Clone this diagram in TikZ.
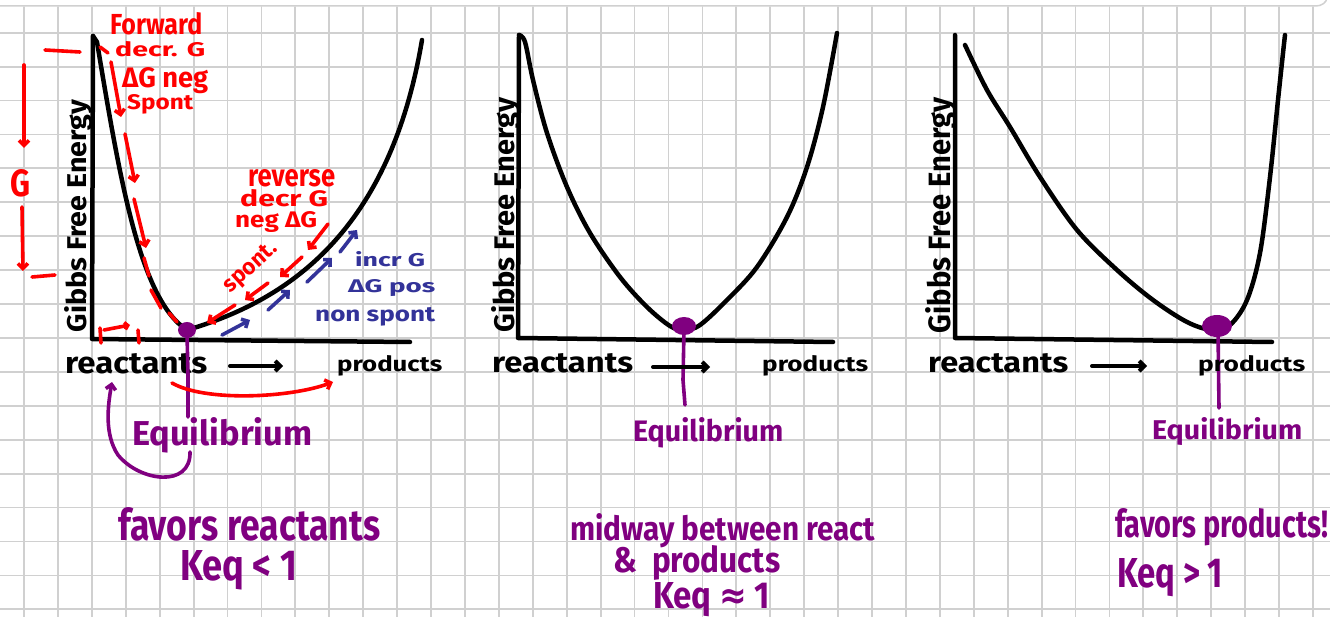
\documentclass[tikz,border=0pt]{standalone}
\usepackage{graphicx}
\usepackage{fontspec}
\setmainfont{Fira Sans}
\newfontfamily\djv{DejaVu Sans}
\usetikzlibrary{arrows.meta}
\definecolor{gridc}{RGB}{208,208,208}
\definecolor{penred}{RGB}{255,0,0}
\definecolor{penpurple}{RGB}{128,0,128}
\definecolor{penblue}{RGB}{51,51,153}
\newcommand{\fb}[3]{\resizebox{#1pt}{#2pt}{\bfseries #3}}
\begin{document}
\begin{tikzpicture}[x=1pt,y=-1pt,line cap=round,line join=round,
  gridline/.style={gridc,line width=1.8pt},
  curve/.style={black,line width=4.5pt},
  redpen/.style={penred,line width=3.6pt},
  bluepen/.style={penblue,line width=3.6pt},
  purplepen/.style={penpurple,line width=3.6pt},
  barb/.style={-{Straight Barb[length=5pt,width=10pt]}},
  lbl/.style={inner sep=0pt,anchor=base west},
  vlbl/.style={inner sep=0pt,anchor=base,rotate=90},
  dot/.style={penpurple}
]
\useasboundingbox (0,0) rectangle (1330,617);
\fill[white] (0,0) rectangle (1330,617);
% grid
\foreach \k in {0,...,38} \draw[gridline] ({24+33.92*\k},7) -- ({24+33.92*\k},617);
\foreach \k in {0,...,17} \draw[gridline] (0,{32.7+33.92*\k}) -- (1330,{32.7+33.92*\k});
\draw[gridc,line width=1.5pt] (0,6) -- (1316,6) to[out=0,in=-90] (1327,-3);

% ================= Panel 1 =================
\draw[curve] (93,36) -- (92,339) -- (410,342);
\draw[curve] (93,36) -- (97,42) .. controls (120,180) and (140,300) .. (187,330)
  .. controls (290,300) and (390,230) .. (422,40);
\fill[dot] (187,330) ellipse [x radius=9pt,y radius=8pt];
\node[lbl] (r1) at (65,373) {\fb{142}{20}{reactants}};
\node[lbl] (p1) at (337,371) {\fb{105}{16}{products}};
\coordinate (a1s) at (230,366); \coordinate (a1e) at (283,366);
\draw[black,line width=4pt,barb] (a1s) -- (a1e);
\node[vlbl] (g1) at (86,216) {\fb{232}{22}{Gibbs Free Energy}};

% red: forward annotation
\node[lbl,penred] (fw) at (110,35) {\fb{92}{22}{Forward}};
\node[lbl,penred] (fw2) at (115,57) {\fb{90}{15}{decr. G}};
\node[lbl,penred] (fw3) at (122,88) {\fb{86}{20}{ΔG neg}};
\node[lbl,penred] (fw4) at (127,110) {\fb{66}{15}{Spont}};
\draw[redpen] (100,47) -- (108,53);
\draw[redpen,barb] (111,62) -- (121,117);
\draw[redpen,barb] (125,134) -- (135,183);
\draw[redpen,barb] (134,199) -- (146,248);
\draw[redpen] (144,258) -- (149,276);
\draw[redpen] (151,290) -- (161,308);
\draw[redpen] (169,313) -- (177,322);
% red: G scale on the left
\draw[redpen] (45,50) -- (80,52);
\draw[redpen,barb] (24,65) -- (24,148);
\node[lbl,penred] (gl) at (10,197) {\fb{20}{27}{G}};
\draw[redpen,barb] (22,207) -- (23,271);
\draw[redpen] (32,277) -- (55,275);
% red: small arrow near axis
\draw[redpen] (100,328) -- (101,343);
\draw[redpen] (138,330) -- (139,343);
\draw[redpen,-{Straight Barb[length=3pt,width=7pt]}] (104,330) -- (130,325);
% red: reverse annotation
\node[lbl,penred] (rv) at (248,187) {\fb{87}{17}{reverse}};
\node[lbl,penred] (rv2) at (240,207) {\fb{88}{17}{decr G}};
\node[lbl,penred] (rv3) at (235,228) {\fb{82}{16}{neg ΔG}};
\node[inner sep=0pt,rotate=42,penred] (rv4) at (251,268) {\fb{64}{15}{spont.}};
\draw[redpen,barb] (328,224) -- (308,250);
\draw[redpen,barb] (302,257) -- (280,277);
\draw[redpen,barb] (268,283) -- (245,300);
\draw[redpen,barb] (235,305) -- (207,323);
% blue: increasing G annotation
\draw[bluepen,barb] (222,335) -- (250,320);
\draw[bluepen,barb] (268,310) -- (290,290);
\draw[bluepen,barb] (307,282) -- (332,258);
\draw[bluepen,barb] (340,252) -- (357,230);
\node[lbl,penblue] (bl1) at (355,267) {\fb{70}{15}{incr G}};
\node[lbl,penblue] (bl2) at (348,293) {\fb{87}{13}{ΔG pos}};
\node[lbl,penblue] (bl3) at (315,322) {\fb{120}{14}{non spont}};
% purple
\node[lbl,penpurple] (eq1) at (132,445) {\fb{180}{28}{Equilibrium}};
\draw[purplepen] (187,333) -- (188,375) -- (188,417);
\coordinate (lp1) at (190,452); \coordinate (lp2) at (112,382);
\draw[purplepen,barb] (lp1) .. controls (191,488) and (140,482) .. (118,455) .. controls (104,434) and (108,405) .. (lp2);
\coordinate (ra1) at (172,383); \coordinate (ra2) at (333,382);
\draw[redpen,barb] (ra1) .. controls (205,402) and (290,398) .. (ra2);
\node[lbl,penpurple] (fr) at (118,540) {\fb{262}{33}{favors reactants}};
\node[lbl,penpurple] (k1) at (180,580) {\fb{117}{30}{Keq < 1}};

% ================= Panel 2 =================
\draw[curve] (519,35) -- (518,338) -- (833,342);
\draw[curve] plot[smooth,tension=0.55] coordinates {(519,35) (525,42) (533,80) (547,133) (567,187) (590,233) (620,277) (647,307) (670,326) (684,330) (700,325) (727,300) (757,267) (787,217) (807,167) (823,107) (837,33)};
\fill[dot] (684,326) ellipse [x radius=12pt,y radius=9pt];
\draw[purplepen] (684,330) -- (683,380) -- (685,405);
\node[lbl] (r2) at (492,372) {\fb{141}{19}{reactants}};
\node[lbl] (p2) at (762,371) {\fb{106}{16}{products}};
\coordinate (a2s) at (653,367); \coordinate (a2e) at (710,367);
\draw[black,line width=4pt,barb] (a2s) -- (a2e);
\node[vlbl] (g2) at (514,215) {\fb{235}{23}{Gibbs Free Energy}};
\node[lbl,penpurple] (eq2) at (633,441) {\fb{150}{24}{Equilibrium}};
\node[lbl,penpurple] (mw) at (570,540) {\fb{305}{27}{midway between react}};
\node[lbl,penpurple] (mw2) at (613,572) {\fb{167}{27}{\&\ \ products}};
\node[lbl,penpurple] (k2) at (653,608) {\fb{117}{26}{Keq {\djv ≈} 1}};

% ================= Panel 3 =================
\draw[curve] (955,35) -- (955,338) -- (1272,342);
\draw[curve] plot[smooth,tension=0.55] coordinates {(965,45) (987,90) (1010,127) (1040,177) (1077,230) (1117,270) (1153,300) (1187,322) (1212,330) (1230,325) (1247,300) (1260,253) (1270,177) (1278,100) (1283,53) (1285,35)};
\fill[dot] (1217,326) ellipse [x radius=15pt,y radius=11pt];
\draw[purplepen] (1218,330) -- (1219,408);
\node[lbl] (r3) at (928,372) {\fb{140}{19}{reactants}};
\node[lbl] (p3) at (1198,371) {\fb{107}{16}{products}};
\coordinate (a3s) at (1092,366); \coordinate (a3e) at (1147,366);
\draw[black,line width=4pt,barb] (a3s) -- (a3e);
\node[vlbl] (g3) at (950,215) {\fb{236}{25}{Gibbs Free Energy}};
\node[lbl,penpurple] (eq3) at (1152,439) {\fb{150}{22}{Equilibrium}};
\node[lbl,penpurple] (fp) at (1115,537) {\fb{213}{29}{favors products!}};
\node[lbl,penpurple] (k3) at (1117,587) {\fb{106}{29}{Keq > 1}};
\end{tikzpicture}
\end{document}
